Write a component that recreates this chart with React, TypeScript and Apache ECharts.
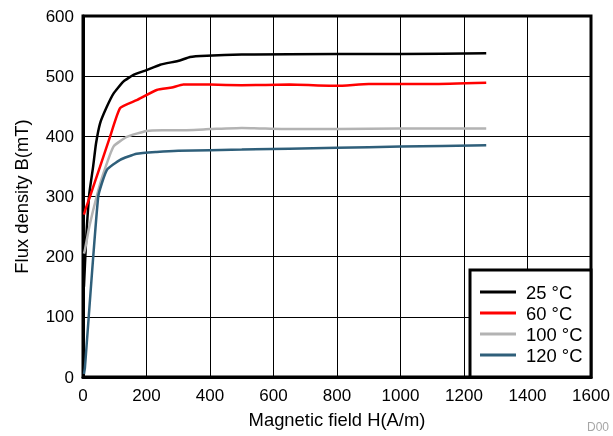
import React, { useEffect, useRef } from "react";
import * as echarts from "echarts";

const xTicks = [0, 200, 400, 600, 800, 1000, 1200, 1400, 1600];
const yTicks = [0, 100, 200, 300, 400, 500, 600];

const seriesNames = ["25 °C", "60 °C", "100 °C", "120 °C"];
const seriesColors = ["#000000", "#ff0000", "#b3b3b3", "#2f5f7a"];

const data25: number[][] = [
  [3, 150], [10, 230], [20, 305], [32, 350], [41, 388], [54, 422], [75, 449],
  [96, 471], [127, 491], [159, 502], [200, 510], [243, 519], [305, 526],
  [337, 532], [390, 534], [500, 536], [800, 537], [1000, 537], [1270, 538],
];
const data60: number[][] = [
  [3, 270], [10, 282], [22, 300], [54, 350], [85, 399], [117, 447],
  [169, 460], [232, 477], [280, 481], [316, 486], [400, 486], [500, 485],
  [650, 486], [800, 484], [900, 487], [1100, 487], [1270, 489],
];
const data100: number[][] = [
  [3, 205], [6, 211], [20, 250], [43, 300], [64, 338], [96, 383],
  [138, 399], [200, 409], [250, 410], [300, 410], [400, 412], [500, 414],
  [650, 412], [800, 412], [1000, 413], [1270, 413],
];
const data120: number[][] = [
  [3, 5], [6, 15], [48, 300], [75, 344], [117, 361], [169, 371],
  [232, 374], [300, 376], [500, 378], [800, 381], [1000, 383], [1270, 385],
];
const allData = [data25, data60, data100, data120];

const FONT = "Liberation Sans, Arial, sans-serif";

export default function App() {
  const ref = useRef<HTMLDivElement>(null);
  useEffect(() => {
    if (!ref.current) return;
    const chart = echarts.init(ref.current, null, { renderer: "svg" });
    chart.setOption({
      animation: false,
      textStyle: { fontFamily: FONT },
      grid: {
        left: 83,
        right: 22,
        top: 16,
        bottom: 59,
        show: true,
        borderColor: "#000",
        borderWidth: 3,
        backgroundColor: "transparent",
      },
      xAxis: {
        type: "value",
        min: xTicks[0],
        max: xTicks[xTicks.length - 1],
        interval: 200,
        name: "Magnetic field H(A/m)",
        nameLocation: "middle",
        nameGap: 33,
        nameTextStyle: { fontSize: 18.4, color: "#000", fontFamily: FONT },
        axisLine: { show: true, lineStyle: { color: "#000", width: 3 } },
        axisTick: { show: false },
        axisLabel: {
          fontSize: 17,
          color: "#000",
          margin: 10,
          fontFamily: FONT,
          formatter: (v: number) => String(v),
        },
        splitLine: { show: true, lineStyle: { color: "#000", width: 1 } },
      },
      yAxis: {
        type: "value",
        min: yTicks[0],
        max: yTicks[yTicks.length - 1],
        interval: 100,
        name: "Flux density B(mT)",
        nameLocation: "middle",
        nameGap: 53,
        nameTextStyle: { fontSize: 18.4, color: "#000", fontFamily: FONT },
        axisLine: { show: true, lineStyle: { color: "#000", width: 3 } },
        axisTick: { show: false },
        axisLabel: {
          fontSize: 17,
          color: "#000",
          margin: 9,
          fontFamily: FONT,
          formatter: (v: number) => String(v),
        },
        splitLine: { show: true, lineStyle: { color: "#000", width: 1 } },
      },
      legend: {
        orient: "vertical",
        left: 480,
        top: 283,
        z: 10,
        padding: 0,
        itemWidth: 36,
        itemHeight: 14,
        itemGap: 3,
        icon: "path://M0,0H36V3H0Z",
        data: seriesNames,
        textStyle: {
          fontSize: 18.4,
          color: "#000",
          fontFamily: FONT,
          padding: [0, 0, 0, 5],
        },
      },
      graphic: [
        {
          type: "rect",
          z: 5,
          shape: { x: 470, y: 270, width: 121, height: 107 },
          style: { fill: "#fff", stroke: "#000", lineWidth: 3 },
        },
        {
          type: "text",
          x: 587,
          y: 421,
          z: 5,
          style: { text: "D00", fontSize: 12, fill: "#a6a6a6", fontFamily: FONT },
        },
      ],
      series: allData.map((d, i) => ({
        type: "line",
        name: seriesNames[i],
        data: d,
        showSymbol: false,
        symbol: "none",
        smooth: 0.15,
        lineStyle: { color: seriesColors[i], width: 2.5 },
        itemStyle: { color: seriesColors[i] },
        z: 3,
      })),
    });
    return () => chart.dispose();
  }, []);
  return (
    <div
      ref={ref}
      style={{ position: "fixed", left: 0, top: 0, width: 613, height: 436 }}
    />
  );
}
